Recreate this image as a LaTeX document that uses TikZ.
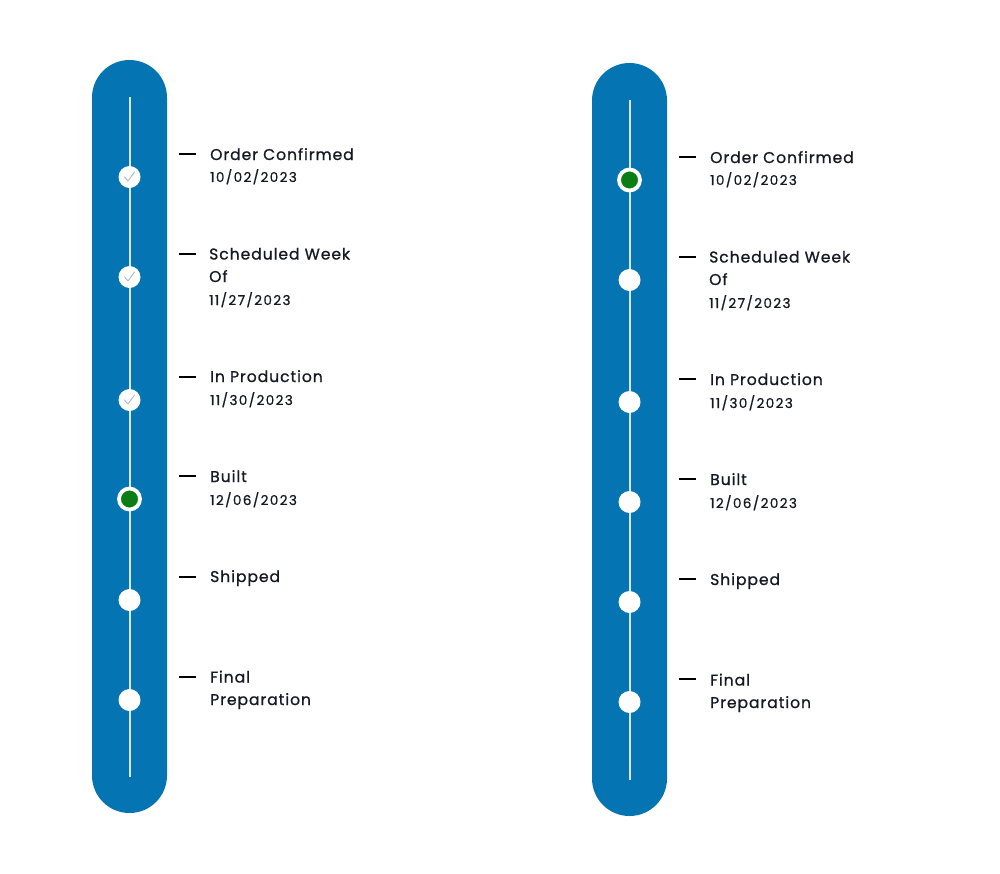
\documentclass[tikz,border=0pt]{standalone}
\usepackage{fontspec}
\setmainfont{Poppins}[LetterSpace=6,FakeBold=0.9]
\newfontfamily\datefont{Poppins}[LetterSpace=10,FakeBold=0.7]
\definecolor{barblue}{RGB}{5,116,178}
\definecolor{railcol}{RGB}{215,232,244}
\definecolor{txtcol}{RGB}{22,24,38}
\definecolor{dotgreen}{RGB}{10,125,20}
\definecolor{checkgray}{RGB}{175,185,195}
\tikzset{
  bar/.style={fill=barblue, draw=none, rounded corners=37.5pt, minimum width=75pt, minimum height=753pt, inner sep=0pt},
  rail/.style={draw=railcol, line width=2pt},
  dot/.style={circle, fill=white, draw=none, minimum size=22pt, inner sep=0pt},
  curdot/.style={circle, fill=dotgreen, draw=white, line width=3.8pt, minimum size=21pt, inner sep=0pt},
  dashmark/.style={draw=black, line width=2.6pt},
  title/.style={anchor=base west, inner sep=0pt, text=txtcol, font=\fontsize{15.6}{22.5}\selectfont, align=left},
  date/.style={anchor=base west, inner sep=0pt, text=txtcol, font=\datefont\fontsize{13.6}{14}\selectfont},
  tick/.style={draw=checkgray, line width=0.9pt, line cap=round, line join=round}
}
\begin{document}
\begin{tikzpicture}[x=1pt,y=-1pt]
\useasboundingbox (0,0) rectangle (1000,873);
% ---------- left column ----------
\node[bar] (barL) at (129.5,436.5) {};
\coordinate (railLtop) at (129.5,97);
\coordinate (railLbot) at (129.5,777);
\draw[rail] (railLtop) -- (railLbot);
\node[dot] (L1) at (129.5,177) {};
\node[dot] (L2) at (129.5,277) {};
\node[dot] (L3) at (129.5,400) {};
\node[curdot] (L4) at (129.5,499) {};
\node[dot] (L5) at (129.5,600) {};
\node[dot] (L6) at (129.5,700) {};
\foreach \n in {L1,L2,L3}{
  \draw[tick] ([shift={(-5,0)}]\n.center) -- ([shift={(-1.5,4)}]\n.center) -- ([shift={(5,-5)}]\n.center);
}
\foreach \n/\y in {dL1/154,dL2/254,dL3/377,dL4/476,dL5/577,dL6/677}{
  \coordinate (\n a) at (179,\y); \coordinate (\n b) at (196,\y);
  \draw[dashmark] (\n a) -- (\n b);
}
\node[title] (tL1) at (210,160) {Order Confirmed};
\node[date]  (sL1) at (210,182) {10/02/2023};
\node[title] (tL2) at (209,282) {Scheduled Week\\Of};
\node[date]  (sL2) at (209,305) {11/27/2023};
\node[title] (tL3) at (210,382) {In Production};
\node[date]  (sL3) at (210,405) {11/30/2023};
\node[title] (tL4) at (210,482) {Built};
\node[date]  (sL4) at (210,505) {12/06/2023};
\node[title] (tL5) at (210,582) {Shipped};
\node[title] (tL6) at (210,705) {Final\\Preparation};
% ---------- right column ----------
\node[bar] (barR) at (629.5,439.5) {};
\coordinate (railRtop) at (629.5,100);
\coordinate (railRbot) at (629.5,780);
\draw[rail] (railRtop) -- (railRbot);
\node[curdot] (R1) at (629.5,180) {};
\node[dot] (R2) at (629.5,280) {};
\node[dot] (R3) at (629.5,402) {};
\node[dot] (R4) at (629.5,502) {};
\node[dot] (R5) at (629.5,602) {};
\node[dot] (R6) at (629.5,702) {};
\foreach \n/\y in {dR1/157,dR2/257,dR3/379,dR4/479,dR5/579,dR6/679}{
  \coordinate (\n a) at (679,\y); \coordinate (\n b) at (696,\y);
  \draw[dashmark] (\n a) -- (\n b);
}
\node[title] (tR1) at (710,163) {Order Confirmed};
\node[date]  (sR1) at (710,185) {10/02/2023};
\node[title] (tR2) at (709,285) {Scheduled Week\\Of};
\node[date]  (sR2) at (709,308) {11/27/2023};
\node[title] (tR3) at (710,385) {In Production};
\node[date]  (sR3) at (710,408) {11/30/2023};
\node[title] (tR4) at (710,485) {Built};
\node[date]  (sR4) at (710,508) {12/06/2023};
\node[title] (tR5) at (710,585) {Shipped};
\node[title] (tR6) at (710,708) {Final\\Preparation};
\end{tikzpicture}
\end{document}
